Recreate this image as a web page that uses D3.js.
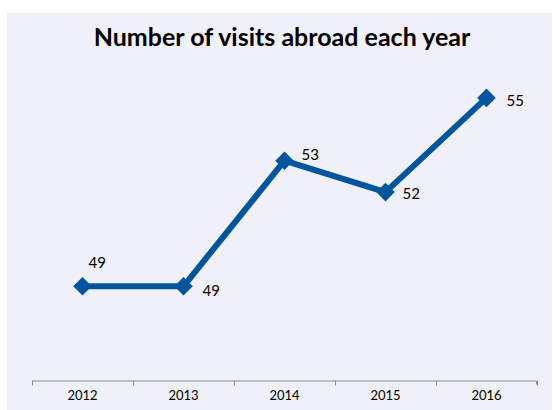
<!DOCTYPE html>
<html>
<head>
<meta charset="utf-8">
<script src="https://cdn.jsdelivr.net/npm/d3@7"></script>
<style>
  body { margin: 0; background: #fff; }
  text { font-family: Lato, "Open Sans", sans-serif; }
</style>
</head>
<body>
<div id="chart"></div>
<script>
// data
var years = ["2012", "2013", "2014", "2015", "2016"];
var visits = [49, 49, 53, 52, 55];
// label offsets per point (dx, dy) relative to the marker
var labelDx = [6, 19, 17, 17, 20];
var labelDy = [-24, 4, -6, 2, 3];

var W = 553, H = 410;

var svg = d3.select("#chart")
    .append("svg")
    .attr("width", W)
    .attr("height", H);

// chart area background
svg.append("rect")
    .attr("x", 7)
    .attr("y", 13)
    .attr("width", 545)
    .attr("height", H - 13)
    .attr("fill", "#eff0f8");

// title
svg.append("text")
    .attr("x", 282)
    .attr("y", 46)
    .attr("text-anchor", "middle")
    .style("font-size", "25px")
    .style("font-weight", "bold")
    .attr("fill", "#000")
    .text("Number of visits abroad each year");

var x = d3.scaleBand()
    .domain(years)
    .range([32, 537]);

var y = d3.scaleLinear()
    .domain([46, 56])
    .range([380.5, 66.5]);

// x axis
var axis = svg.append("g")
    .attr("transform", "translate(0," + y(46) + ")")
    .call(d3.axisBottom(x).tickSize(0).tickPadding(10));
axis.select(".domain").attr("stroke", "#8c8c8c").attr("d", "M32.5,4V0.5H536.5V4");
axis.selectAll("text")
    .style("font-size", "13px")
    .attr("fill", "#000")
    .attr("font-family", "Lato, 'Open Sans', sans-serif");

// tick marks on the band boundaries
axis.selectAll(".bound")
    .data(d3.range(years.length + 1))
    .enter()
    .append("line")
    .attr("class", "bound")
    .attr("x1", function(i) { return Math.round(32 + i * x.step()) + 0.5; })
    .attr("x2", function(i) { return Math.round(32 + i * x.step()) + 0.5; })
    .attr("y1", 0)
    .attr("y2", 5)
    .attr("stroke", "#8c8c8c");

var pts = years.map(function(d, i) { return {year: d, v: visits[i], i: i}; });
var cx = function(d) { return x(d.year) + x.bandwidth() / 2; };

// line
svg.append("path")
    .datum(pts)
    .attr("fill", "none")
    .attr("stroke", "#02549c")
    .attr("stroke-width", 6)
    .attr("stroke-linejoin", "round")
    .attr("d", d3.line().x(cx).y(function(d) { return y(d.v); }));

// diamond markers
svg.selectAll(".marker")
    .data(pts)
    .enter()
    .append("path")
    .attr("class", "marker")
    .attr("d", d3.symbol().type(d3.symbolDiamond2).size(220))
    .attr("transform", function(d) { return "translate(" + cx(d) + "," + y(d.v) + ")"; })
    .attr("fill", "#02549c");

// value labels
svg.selectAll(".lbl")
    .data(pts)
    .enter()
    .append("text")
    .attr("class", "lbl")
    .attr("x", function(d) { return cx(d) + labelDx[d.i]; })
    .attr("y", function(d) { return y(d.v) + labelDy[d.i]; })
    .attr("dy", "0.35em")
    .style("font-size", "15px")
    .attr("fill", "#000")
    .text(function(d) { return d.v; });
</script>
</body>
</html>
